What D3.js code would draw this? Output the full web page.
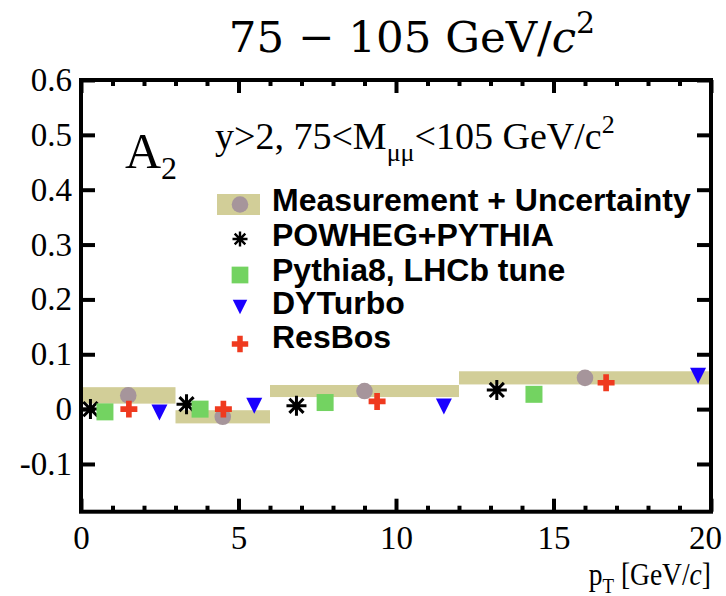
<!DOCTYPE html>
<html>
<head>
<meta charset="utf-8">
<script src="https://cdn.jsdelivr.net/npm/d3@7"></script>
<style>
  html, body { margin: 0; padding: 0; background: #fff; }
  svg { display: block; }
</style>
</head>
<body>
<svg id="chart" width="726" height="596"></svg>
<script>
// A2 angular coefficient vs dimuon pT, 75-105 GeV mass window
const binEdges = [0, 3, 6, 12, 20];
const measX = [1.5, 4.5, 9.0, 16.0];
const measY = [0.025, -0.014, 0.033, 0.057];
const measErr = [0.015, 0.012, 0.011, 0.012];

const powhegX = [0.30, 3.35, 6.84, 13.20];
const powhegY = [0.000, 0.009, 0.006, 0.035];
const pythiaX = [0.76, 3.78, 7.75, 14.38];
const pythiaY = [-0.005, 0.000, 0.012, 0.027];
const dyturboX = [2.49, 5.50, 11.52, 19.59];
const dyturboY = [-0.006, 0.006, 0.005, 0.061];
const resbosX = [1.52, 4.52, 9.40, 16.67];
const resbosY = [0.000, 0.000, 0.014, 0.048];

const yTicks = [-0.1, 0, 0.1, 0.2, 0.3, 0.4, 0.5, 0.6];
const xMajorTicks = [0, 5, 10, 15, 20];
const xMinorTicks = d3.range(0, 21, 1);
const legendLabels = ["Measurement + Uncertainty", "POWHEG+PYTHIA", "Pythia8, LHCb tune", "DYTurbo", "ResBos"];

const colors = {
  band: "#d2ce98",
  meas: "#a6959b",
  powheg: "#000000",
  pythia: "#73d361",
  dyturbo: "#1a00ff",
  resbos: "#ef3a1f"
};

const svg = d3.select("#chart");
const plotLeft = 81, plotRight = 711, plotTop = 80, plotBottom = 511.7;

const x = d3.scaleLinear().domain([0, 20]).range([plotLeft, plotRight]);
const y = d3.scaleLinear().domain([-0.187, 0.6]).range([plotBottom, plotTop]);

const serif = "'Liberation Serif', 'Times New Roman', serif";
const titleSerif = "'DejaVu Serif', serif";
const sans = "'Liberation Sans', Arial, sans-serif";

// marker shapes
const asterisk = {
  draw(ctx, size) {
    const r = Math.sqrt(size) / 2, d = r * Math.SQRT1_2;
    ctx.moveTo(-r, 0); ctx.lineTo(r, 0);
    ctx.moveTo(0, -r); ctx.lineTo(0, r);
    ctx.moveTo(-d, -d); ctx.lineTo(d, d);
    ctx.moveTo(-d, d); ctx.lineTo(d, -d);
  }
};
const triangleDown = {
  draw(ctx, size) {
    const w = Math.sqrt(size);
    ctx.moveTo(-w / 2, -w / 2);
    ctx.lineTo(w / 2, -w / 2);
    ctx.lineTo(0, w / 2);
    ctx.closePath();
  }
};

svg.append("defs").append("clipPath").attr("id", "plotClip")
  .append("rect").attr("x", plotLeft).attr("y", plotTop)
  .attr("width", plotRight - plotLeft).attr("height", plotBottom - plotTop);

const plot = svg.append("g").attr("clip-path", "url(#plotClip)");

// uncertainty bands
plot.selectAll("rect.band")
  .data(measY.map((v, i) => ({ x0: binEdges[i], x1: binEdges[i + 1], v, e: measErr[i] })))
  .join("rect")
  .attr("class", "band")
  .attr("x", d => x(d.x0))
  .attr("width", d => x(d.x1) - x(d.x0))
  .attr("y", d => y(d.v + d.e))
  .attr("height", d => y(d.v - d.e) - y(d.v + d.e))
  .attr("fill", colors.band);

// measured points
plot.selectAll("circle.meas")
  .data(measX.map((v, i) => [v, measY[i]]))
  .join("circle")
  .attr("class", "meas")
  .attr("cx", d => x(d[0])).attr("cy", d => y(d[1]))
  .attr("r", 8.3)
  .attr("fill", colors.meas);

function drawSeries(xs, ys, type, size, style) {
  const sym = d3.symbol().type(type).size(size);
  const sel = plot.append("g").selectAll("path")
    .data(xs.map((v, i) => [v, ys[i]]))
    .join("path")
    .attr("transform", d => `translate(${x(d[0])},${y(d[1])})`)
    .attr("d", sym);
  Object.entries(style).forEach(([k, v]) => sel.attr(k, v));
}

drawSeries(powhegX, powhegY, asterisk, 400, { fill: "none", stroke: colors.powheg, "stroke-width": 3 });
drawSeries(pythiaX, pythiaY, d3.symbolSquare, 289, { fill: colors.pythia });
drawSeries(dyturboX, dyturboY, triangleDown, 256, { fill: colors.dyturbo });
drawSeries(resbosX, resbosY, d3.symbolCross, 160, { fill: colors.resbos });

// frame and ticks
const frame = svg.append("g").attr("stroke", "#000").attr("stroke-width", 4).attr("fill", "none");
frame.append("rect").attr("x", plotLeft).attr("y", plotTop)
  .attr("width", plotRight - plotLeft).attr("height", plotBottom - plotTop);

const fmtY = v => (v < 0 ? "-" : "") + (v === 0 ? "0" : d3.format(".1f")(Math.abs(v)));

const yAxisL = svg.append("g").attr("transform", `translate(${plotLeft},0)`)
  .call(d3.axisLeft(y).tickValues(yTicks).tickSize(-14).tickPadding(9).tickFormat(fmtY));
const yAxisR = svg.append("g").attr("transform", `translate(${plotRight},0)`)
  .call(d3.axisRight(y).tickValues(yTicks).tickSize(-14).tickFormat(""));
const xAxisB = svg.append("g").attr("transform", `translate(0,${plotBottom})`)
  .call(d3.axisBottom(x).tickValues(xMajorTicks).tickSize(-13).tickPadding(14).tickFormat(d3.format("d")));
const xAxisBMinor = svg.append("g").attr("transform", `translate(0,${plotBottom})`)
  .call(d3.axisBottom(x).tickValues(xMinorTicks.filter(v => v % 5 !== 0)).tickSize(-6).tickFormat(""));
const xAxisT = svg.append("g").attr("transform", `translate(0,${plotTop})`)
  .call(d3.axisTop(x).tickValues(xMajorTicks).tickSize(-13).tickFormat(""));
const xAxisTMinor = svg.append("g").attr("transform", `translate(0,${plotTop})`)
  .call(d3.axisTop(x).tickValues(xMinorTicks.filter(v => v % 5 !== 0)).tickSize(-6).tickFormat(""));

[yAxisL, yAxisR, xAxisB, xAxisBMinor, xAxisT, xAxisTMinor].forEach(g => {
  g.select(".domain").remove();
  g.selectAll(".tick line").attr("stroke", "#000").attr("stroke-width", 4);
  g.selectAll(".tick text").attr("font-family", serif).attr("font-size", 33).attr("fill", "#000");
});
// keep the last x label inside the canvas
xAxisB.selectAll(".tick text").filter(d => d === 20).attr("dx", -6);

// title
const title = svg.append("text")
  .attr("x", 412).attr("y", 52)
  .attr("text-anchor", "middle")
  .attr("font-family", titleSerif).attr("font-size", 43.5).attr("fill", "#000");
title.append("tspan").text("75 − 105 GeV/");
title.append("tspan").attr("font-style", "italic").text("c");
title.append("tspan").attr("font-size", 30).attr("dy", -19).text("2");

// x axis title, slightly condensed
const xt = svg.append("text")
  .attr("transform", "translate(711,585) scale(0.86,1)")
  .attr("text-anchor", "end")
  .attr("font-family", serif).attr("font-size", 32).attr("fill", "#000");
xt.append("tspan").text("p");
xt.append("tspan").attr("font-size", 22).attr("dy", 8).text("T");
xt.append("tspan").attr("dy", -8).text(" [GeV/");
xt.append("tspan").attr("font-style", "italic").text("c");
xt.append("tspan").text("]");

// coefficient label
const a2 = svg.append("text")
  .attr("x", 125).attr("y", 168)
  .attr("font-family", serif).attr("font-size", 50).attr("fill", "#000");
a2.append("tspan").text("A");
a2.append("tspan").attr("font-size", 32).attr("dy", 11).text("2");

// kinematic selection
const cuts = svg.append("text")
  .attr("x", 215).attr("y", 149)
  .attr("font-family", serif).attr("font-size", 38).attr("fill", "#000");
cuts.append("tspan").text("y>2, 75<M");
cuts.append("tspan").attr("font-size", 26).attr("dy", 12).text("μμ");
cuts.append("tspan").attr("dy", -12).text("<105 GeV/c");
cuts.append("tspan").attr("font-size", 26).attr("dy", -16).text("2");

// legend
const legendBase = [211, 246, 281, 314, 348];
const lx = 240;
const legend = svg.append("g");
legend.selectAll("text")
  .data(legendLabels)
  .join("text")
  .attr("x", 272)
  .attr("y", (d, i) => legendBase[i])
  .attr("font-family", sans).attr("font-weight", "bold")
  .attr("font-size", 32).attr("fill", "#000")
  .text(d => d);

legend.append("rect")
  .attr("x", 217).attr("y", 194).attr("width", 43).attr("height", 21)
  .attr("fill", colors.band);
legend.append("circle").attr("cx", lx).attr("cy", 204.5).attr("r", 8.3).attr("fill", colors.meas);
legend.append("path")
  .attr("transform", `translate(${lx},${239})`)
  .attr("d", d3.symbol().type(asterisk).size(225)())
  .attr("fill", "none").attr("stroke", colors.powheg).attr("stroke-width", 2.4);
legend.append("path")
  .attr("transform", `translate(${lx},${275})`)
  .attr("d", d3.symbol().type(d3.symbolSquare).size(280)())
  .attr("fill", colors.pythia);
legend.append("path")
  .attr("transform", `translate(${lx},${307})`)
  .attr("d", d3.symbol().type(triangleDown).size(210)())
  .attr("fill", colors.dyturbo);
legend.append("path")
  .attr("transform", `translate(${lx},${344})`)
  .attr("d", d3.symbol().type(d3.symbolCross).size(150)())
  .attr("fill", colors.resbos);
</script>
</body>
</html>
